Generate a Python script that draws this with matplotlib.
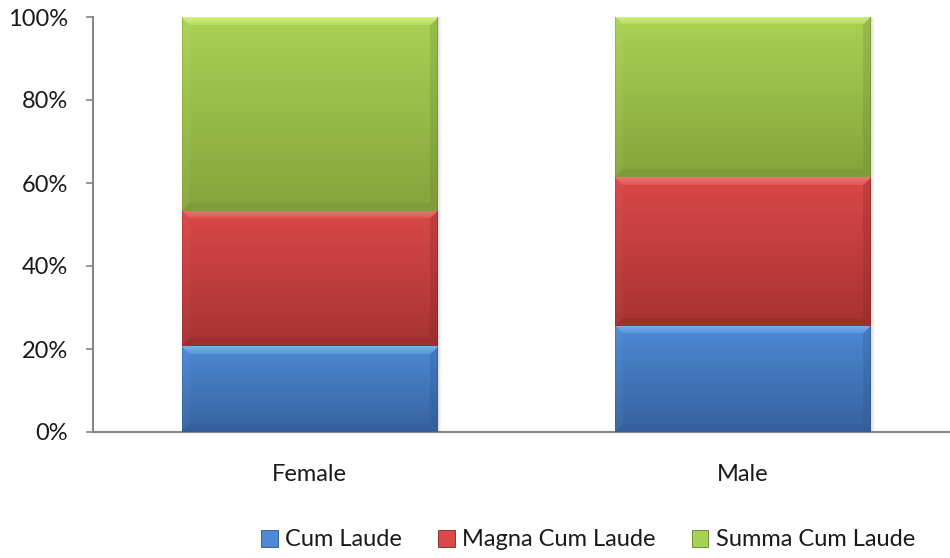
import numpy as np
import matplotlib
matplotlib.use('Agg')
import matplotlib.pyplot as plt
from matplotlib.patches import Patch
from matplotlib.colors import to_rgb

# donnees (parts en %)
categories = ['Female', 'Male']
cum_laude = [20.7, 25.6]
magna_cum_laude = [32.6, 35.8]
summa_cum_laude = [46.7, 38.6]
series_names = ['Cum Laude', 'Magna Cum Laude', 'Summa Cum Laude']
y_ticks = [0, 20, 40, 60, 80, 100]

# couleurs : (haut, bas, biseau clair, biseau sombre)
couleurs = [
    ('#4d89d4', '#36629f', '#7fb6f2', '#2c5288'),
    ('#da4848', '#a63232', '#f27a7a', '#7e2424'),
    ('#a9d254', '#84a43c', '#d9f38c', '#667f2c'),
]

plt.rcParams['font.family'] = ['Lato', 'DejaVu Sans']

fig = plt.figure(figsize=(9.5, 5.58), dpi=100)
ax = fig.add_axes([93 / 950, 126 / 558, 866 / 950, 415 / 558])

x = np.arange(len(categories))
largeur = 0.59
series = [cum_laude, magna_cum_laude, summa_cum_laude]

ax.set_xlim(-0.5, 1.5)
ax.set_ylim(0, 100)

px_x = 866 / 2.0   # pixels par categorie
px_y = 415 / 100.0  # pixels par %


def image_biseau(h, w, c_haut, c_bas, c_clair, c_sombre, b=8):
    h = max(int(round(h)), 2)
    w = max(int(round(w)), 2)
    haut = np.array(to_rgb(c_haut))
    bas = np.array(to_rgb(c_bas))
    clair = np.array(to_rgb(c_clair))
    sombre = np.array(to_rgb(c_sombre))
    t = np.linspace(0, 1, h)[:, None, None]
    img = haut * (1 - t) + bas * t
    img = np.repeat(img, w, axis=1)
    ii, jj = np.mgrid[0:h, 0:w]
    dt = ii
    db = h - 1 - ii
    dl = jj
    dr = w - 1 - jj
    m_haut = (dt < b) & (dt <= np.minimum(dl, dr))
    m_bas = (db < b) & (db <= np.minimum(dl, dr)) & ~m_haut
    m_droite = (dr < b) & (dr < np.minimum(dt, db))
    m_gauche = (dl < b) & (dl < np.minimum(dt, db))
    f = (1 - dt / b)[..., None] * 0.6 + 0.25
    img = np.where(m_haut[..., None], img * (1 - f) + clair * f, img)
    img = np.where(m_bas[..., None], img * 0.8 + sombre * 0.2, img)
    img = np.where(m_droite[..., None], img * 0.75 + sombre * 0.25, img)
    img = np.where(m_gauche[..., None], img * 0.92 + clair * 0.08, img)
    # lisere sombre sur les bords
    img[:, -1] = img[:, -1] * 0.5 + sombre * 0.5
    img[:, 0] = img[:, 0] * 0.7 + sombre * 0.3
    return np.clip(img, 0, 1)


base = np.zeros(len(categories))
for k, vals in enumerate(series):
    barres = ax.bar(x, vals, largeur, bottom=base, color=couleurs[k][0],
                    edgecolor='none', zorder=2)
    for p in barres:
        x0, y0 = p.get_x(), p.get_y()
        w, h = p.get_width(), p.get_height()
        # ombre legere a droite
        for d, a in [(1, 0.10), (2, 0.06), (3, 0.03)]:
            ax.plot([x0 + w + d / px_x] * 2, [y0, y0 + h], color='black',
                    alpha=a, lw=1, zorder=1, solid_capstyle='butt')
        img = image_biseau(h * px_y, w * px_x, *couleurs[k])
        im = ax.imshow(img, extent=(x0, x0 + w, y0, y0 + h), aspect='auto',
                       interpolation='bilinear', zorder=3)
        im.set_clip_path(p)
    base = base + np.array(vals)

ax.set_xticks(x)
ax.set_xticklabels(categories, fontsize=17, color='#1a1a1a')
ax.tick_params(axis='x', length=0, pad=23)
ax.set_yticks(y_ticks)
ax.set_yticklabels([str(v) + '%' for v in y_ticks], fontsize=17, color='#1a1a1a')
ax.tick_params(axis='y', length=5, width=1.2, color='#868686', pad=13)

for s in ['top', 'right']:
    ax.spines[s].set_visible(False)
for s in ['left', 'bottom']:
    ax.spines[s].set_color('#868686')
    ax.spines[s].set_linewidth(1.5)

poignees = [Patch(facecolor=couleurs[k][0], edgecolor=couleurs[k][3], lw=0.6)
            for k in range(3)]
fig.legend(poignees, series_names, loc='center',
           bbox_to_anchor=(588 / 950, 1 - 540 / 558), ncol=3, frameon=False,
           fontsize=17, handlelength=0.7, handleheight=0.7,
           handletextpad=0.3, columnspacing=1.55, labelcolor='#1a1a1a')

fig.savefig('out.png', dpi=100)
